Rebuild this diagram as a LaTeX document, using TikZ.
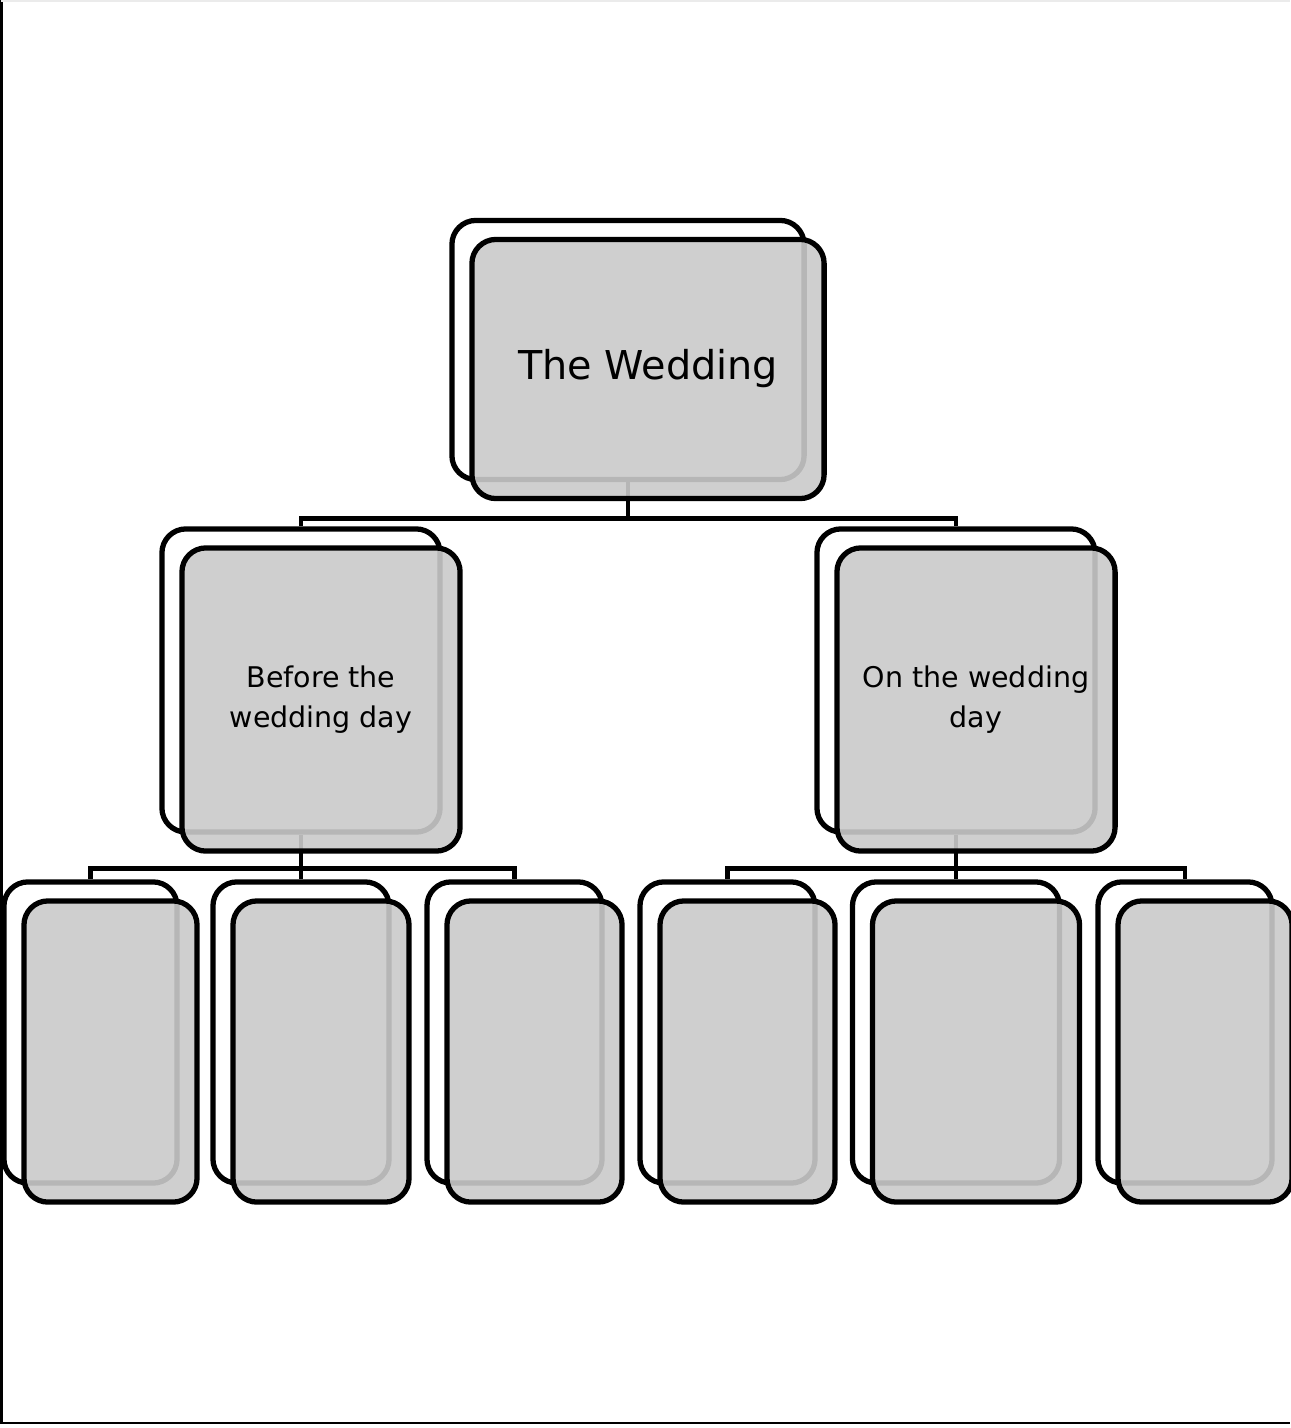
\documentclass[tikz,border=0pt]{standalone}
\usepackage{fontspec}
\setmainfont{DejaVu Sans}
\usetikzlibrary{positioning,backgrounds}
\definecolor{cardgray}{RGB}{202,202,202}

\begin{document}
\begin{tikzpicture}[
  x=0.01cm, y=-0.01cm,
  card/.style={rectangle, draw, line width=1.5pt, rounded corners=0.24cm, inner sep=0pt, align=center},
  backcard/.style={card, fill=white},
  frontcard/.style={card, fill=cardgray, fill opacity=0.9, text opacity=1, xshift=0.2cm, yshift=-0.19cm},
  link/.style={line width=1.4pt},
  bigtext/.style={font=\fontsize{11.3}{14}\selectfont},
  midtext/.style={font=\fontsize{8.1}{11.3}\selectfont}
]
  \useasboundingbox (0,0) rectangle (1290,1428);
  \draw[line width=0.6pt] (1.5,0) -- (1.5,1423) -- (1290,1423);
  \draw[black!8, line width=0.6pt] (1.5,0.5) -- (1290,0.5);

  \node[backcard, minimum width=3.52cm, minimum height=2.59cm] (b-top) at (628,350) {};
  \node[frontcard, bigtext, minimum width=3.52cm, minimum height=2.59cm] (top) at (b-top) {The Wedding};

  \node[backcard, minimum width=2.78cm, minimum height=3.03cm] (b-before) at (301,680.5) {};
  \node[frontcard, midtext, minimum width=2.78cm, minimum height=3.03cm] (before) at (b-before) {Before the\\ wedding day};
  \node[backcard, minimum width=2.78cm, minimum height=3.03cm] (b-on) at (956,680.5) {};
  \node[frontcard, midtext, minimum width=2.78cm, minimum height=3.03cm] (on) at (b-on) {On the wedding\\ day};

  \foreach \nm/\x/\w in {pre1/90.5/1.73, pre2/301/1.76, pre3/514.5/1.75, day1/727.5/1.75, day2/956/2.07, day3/1185/1.74} {
    \node[backcard, minimum width=\w cm, minimum height=3.01cm] (b-\nm) at (\x,1032.5) {};
    \node[frontcard, minimum width=\w cm, minimum height=3.01cm] (\nm) at (b-\nm) {};
  }

  \begin{scope}[on background layer]
    \draw[link] (b-top.south) -- ++(0,36) -| (b-before.north);
    \draw[link] (b-top.south) -- ++(0,36) -| (b-on.north);
    \foreach \c in {pre1,pre2,pre3}
      \draw[link] (b-before.south) -- ++(0,34) -| (b-\c.north);
    \foreach \c in {day1,day2,day3}
      \draw[link] (b-on.south) -- ++(0,34) -| (b-\c.north);
  \end{scope}
\end{tikzpicture}
\end{document}
